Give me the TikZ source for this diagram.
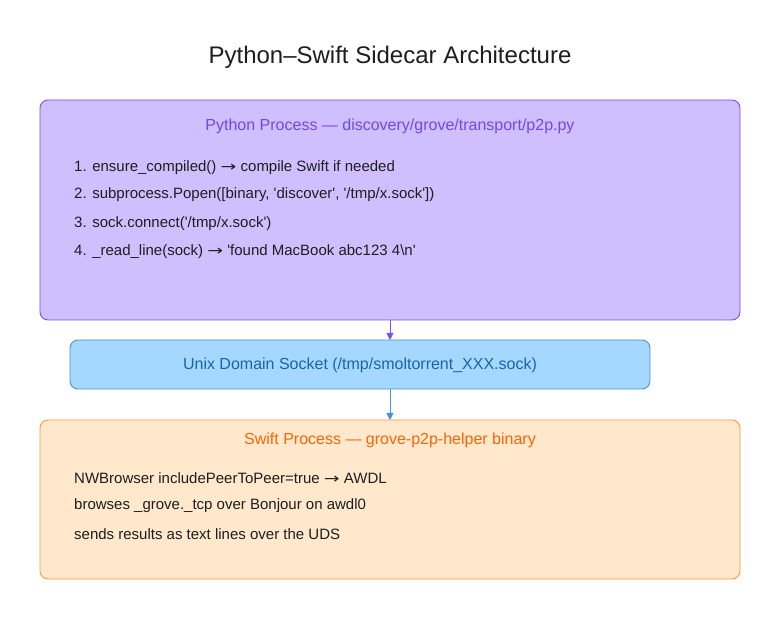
\documentclass[tikz,border=0pt]{standalone}
\usepackage{fontspec}
\usepackage{graphicx}
\setmainfont{Liberation Sans}
\newfontfamily\arrowfont{DejaVu Sans}
\newcommand{\rarr}{\scalebox{1.35}[1]{\arrowfont\fontsize{14}{16}\selectfont →}}
\newcommand{\sq}{\textquotesingle}
\usetikzlibrary{arrows.meta}
\definecolor{pyfill}{HTML}{D0BFFF}
\definecolor{pydraw}{HTML}{7950F2}
\definecolor{pytext}{HTML}{7048E8}
\definecolor{udsfill}{HTML}{A5D8FF}
\definecolor{udsdraw}{HTML}{4A90D9}
\definecolor{udstext}{HTML}{1864AB}
\definecolor{swfill}{HTML}{FFE8CC}
\definecolor{swdraw}{HTML}{FD9A3E}
\definecolor{swtext}{HTML}{F76707}
\definecolor{body}{HTML}{1E1E1E}
\tikzset{
  box/.style={rounded corners=8pt, line width=0.9pt},
  boxtitle/.style={font=\fontsize{16}{19}\selectfont, anchor=center, inner sep=0pt},
  line/.style={font=\fontsize{15}{18}\selectfont, text=body, anchor=west, inner sep=0pt},
  conn/.style={line width=0.9pt, -{Triangle[length=7pt,width=7pt]}}
}
\begin{document}
\begin{tikzpicture}[x=1pt,y=-1pt]
\useasboundingbox (0,0) rectangle (780,620);
\fill[white] (0,0) rectangle (780,620);
\node[font=\fontsize{24}{28}\selectfont, text=body, inner sep=0pt] (title) at (390,57) {Python–Swift Sidecar Architecture};

\draw[box, fill=pyfill, draw=pydraw] (40,100) rectangle (740,320);
\coordinate (pybot) at (390,320);
\node[boxtitle, text=pytext] (pyt) at (390,126) {Python Process — discovery/grove/transport/p2p.py};
\node[line] (p1) at (74,168) {1. ensure\_compiled() \rarr{} compile Swift if needed};
\node[line] (p2) at (74,195) {2. subprocess.Popen([binary, \sq discover\sq, \sq/tmp/x.sock\sq])};
\node[line] (p3) at (74,223.5) {3. sock.connect(\sq/tmp/x.sock\sq)};
\node[line] (p4) at (74,252) {4. \_read\_line(sock) \rarr{} \sq found MacBook abc123 4\textbackslash n\sq};

\draw[box, fill=udsfill, draw=udsdraw] (70,340) rectangle (650,389);
\coordinate (udstop) at (390,340);
\coordinate (udsbot) at (390,389);
\node[boxtitle, text=udstext] (uds) at (360,365) {Unix Domain Socket (/tmp/smoltorrent\_XXX.sock)};

\draw[box, fill=swfill, draw=swdraw] (40,420) rectangle (740,579);
\coordinate (swtop) at (390,420);
\node[boxtitle, text=swtext] (swt) at (390,440) {Swift Process — grove-p2p-helper binary};
\node[line] (s1) at (74,478) {NWBrowser includePeerToPeer=true \rarr{} AWDL};
\node[line] (s2) at (74,506) {browses \_grove.\_tcp over Bonjour on awdl0};
\node[line] (s3) at (74,534) {sends results as text lines over the UDS};

\draw[conn, draw=pydraw, fill=pydraw] (pybot) -- (udstop);
\draw[conn, draw=udsdraw, fill=udstext] (udsbot) -- (swtop);
\end{tikzpicture}
\end{document}
